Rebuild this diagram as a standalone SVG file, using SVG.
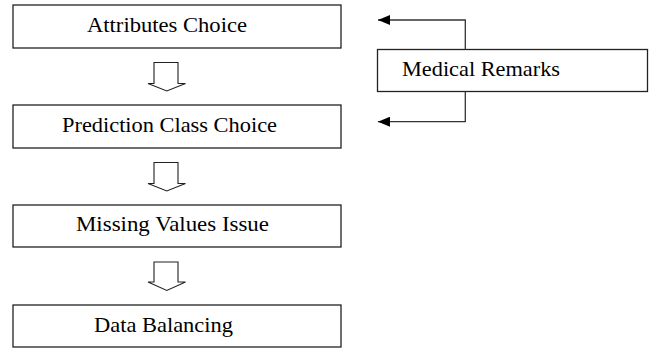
<svg xmlns="http://www.w3.org/2000/svg" width="652" height="349" viewBox="0 0 652 349">
<style>
.box{fill:#fff;stroke:#222;stroke-width:1.3}
.lbl{font-family:"Liberation Serif","Times New Roman",serif;font-size:21.5px;fill:#000}
.flow{fill:#fff;stroke:#222;stroke-width:1.1;stroke-linejoin:miter}
.conn{fill:none;stroke:#333;stroke-width:1.3}
</style>
<defs>
<marker id="ah" markerWidth="12" markerHeight="10" refX="12" refY="5" orient="auto" markerUnits="userSpaceOnUse">
<path d="M0,0 L12,5 L0,10 Z" fill="#000"/>
</marker>
</defs>
<g id="n1"><rect class="box" x="13" y="5" width="328" height="43"/><text class="lbl" x="87" y="31.5" textLength="160" lengthAdjust="spacingAndGlyphs">Attributes Choice</text></g>
<g id="n2"><rect class="box" x="13" y="105" width="328" height="43"/><text class="lbl" x="62" y="131.5" textLength="215" lengthAdjust="spacingAndGlyphs">Prediction Class Choice</text></g>
<g id="n3"><rect class="box" x="13" y="205" width="328" height="42"/><text class="lbl" x="76" y="231" textLength="193" lengthAdjust="spacingAndGlyphs">Missing Values Issue</text></g>
<g id="n4"><rect class="box" x="13" y="305" width="328" height="42"/><text class="lbl" x="94" y="331.5" textLength="139" lengthAdjust="spacingAndGlyphs">Data Balancing</text></g>
<g id="n5"><rect class="box" x="377.5" y="49.5" width="270" height="42"/><text class="lbl" x="402" y="76" textLength="158" lengthAdjust="spacingAndGlyphs">Medical Remarks</text></g>
<g id="connectors">
<polygon class="flow" points="154,62.5 178,62.5 178,83.5 185.5,83.5 166.8,91 148,83.5 154,83.5"/>
<polygon class="flow" points="154,162.5 178,162.5 178,183.5 185.5,183.5 166.8,191 148,183.5 154,183.5"/>
<polygon class="flow" points="154,262 178,262 178,282 185.5,282 166.8,290.5 148,282 154,282"/>
<path class="conn" d="M465.3,49.5 V20 H378" marker-end="url(#ah)"/>
<path class="conn" d="M465.3,91.5 V121.7 H378" marker-end="url(#ah)"/>
</g>
</svg>
